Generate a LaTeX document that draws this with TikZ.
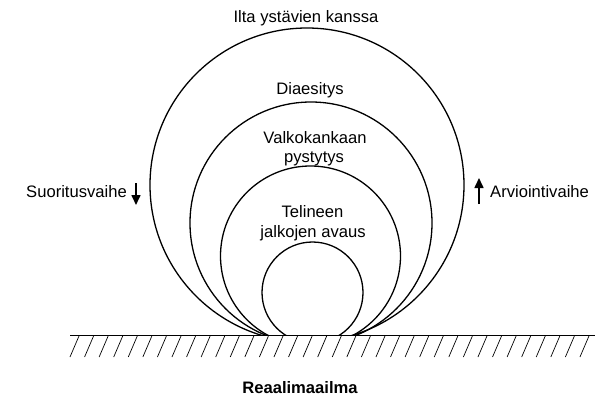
\documentclass[tikz,border=0pt]{standalone}
\usepackage{fontspec}
\setmainfont{Liberation Sans}
\usetikzlibrary{arrows.meta}
\begin{document}
\begin{tikzpicture}[x=1pt,y=-1pt,
  ring/.style={draw=black,line width=1.3pt},
  ground/.style={draw=black,line width=1pt},
  hatch/.style={draw=black,line width=0.7pt},
  lbl/.style={font=\fontsize{16.6}{19.5}\selectfont,align=center,anchor=base,inner sep=0pt},
  phase/.style={draw=black,line width=1.6pt,-{Triangle[length=10pt,width=9pt]}}]
\useasboundingbox (0,0) rectangle (595,399);
\begin{scope}
  \clip (0,0) rectangle (595,335.5);
  \draw[ring] (307,185) circle (157);
  \draw[ring] (311,223) circle (121);
  \draw[ring] (310.5,256) circle (90);
  \draw[ring] (312.5,292.5) circle (50.5);
\end{scope}
\coordinate (g1) at (70,335.5);
\coordinate (g2) at (595,335.5);
\draw[ground] (g1) -- (g2);
\foreach \i in {0,...,35}{
  \draw[hatch] ({70+14.57*\i},357) -- ++(9,-21);
}
\node[lbl] (t1) at (306,22) {Ilta ystävien kanssa};
\node[lbl] (t2) at (310,94) {Diaesitys};
\node[lbl] (t3) at (315,143) {Valkokankaan};
\node[lbl] (t3b) at (314,162) {pystytys};
\node[lbl] (t4) at (312.5,217) {Telineen};
\node[lbl] (t4b) at (313,237) {jalkojen avaus};
\node[lbl,anchor=base east] (s) at (127,197.5) {Suoritusvaihe};
\node[lbl,anchor=base west] (a) at (490,197.5) {Arviointivaihe};
\node[lbl,font=\fontsize{16.6}{19.5}\selectfont\bfseries] (r) at (300,393) {Reaalimaailma};
\coordinate (s1) at (136,183);
\coordinate (s2) at (136,205);
\coordinate (a1) at (479,204);
\coordinate (a2) at (479,178);
\draw[phase] (s1) -- (s2);
\draw[phase] (a1) -- (a2);
\end{tikzpicture}
\end{document}
